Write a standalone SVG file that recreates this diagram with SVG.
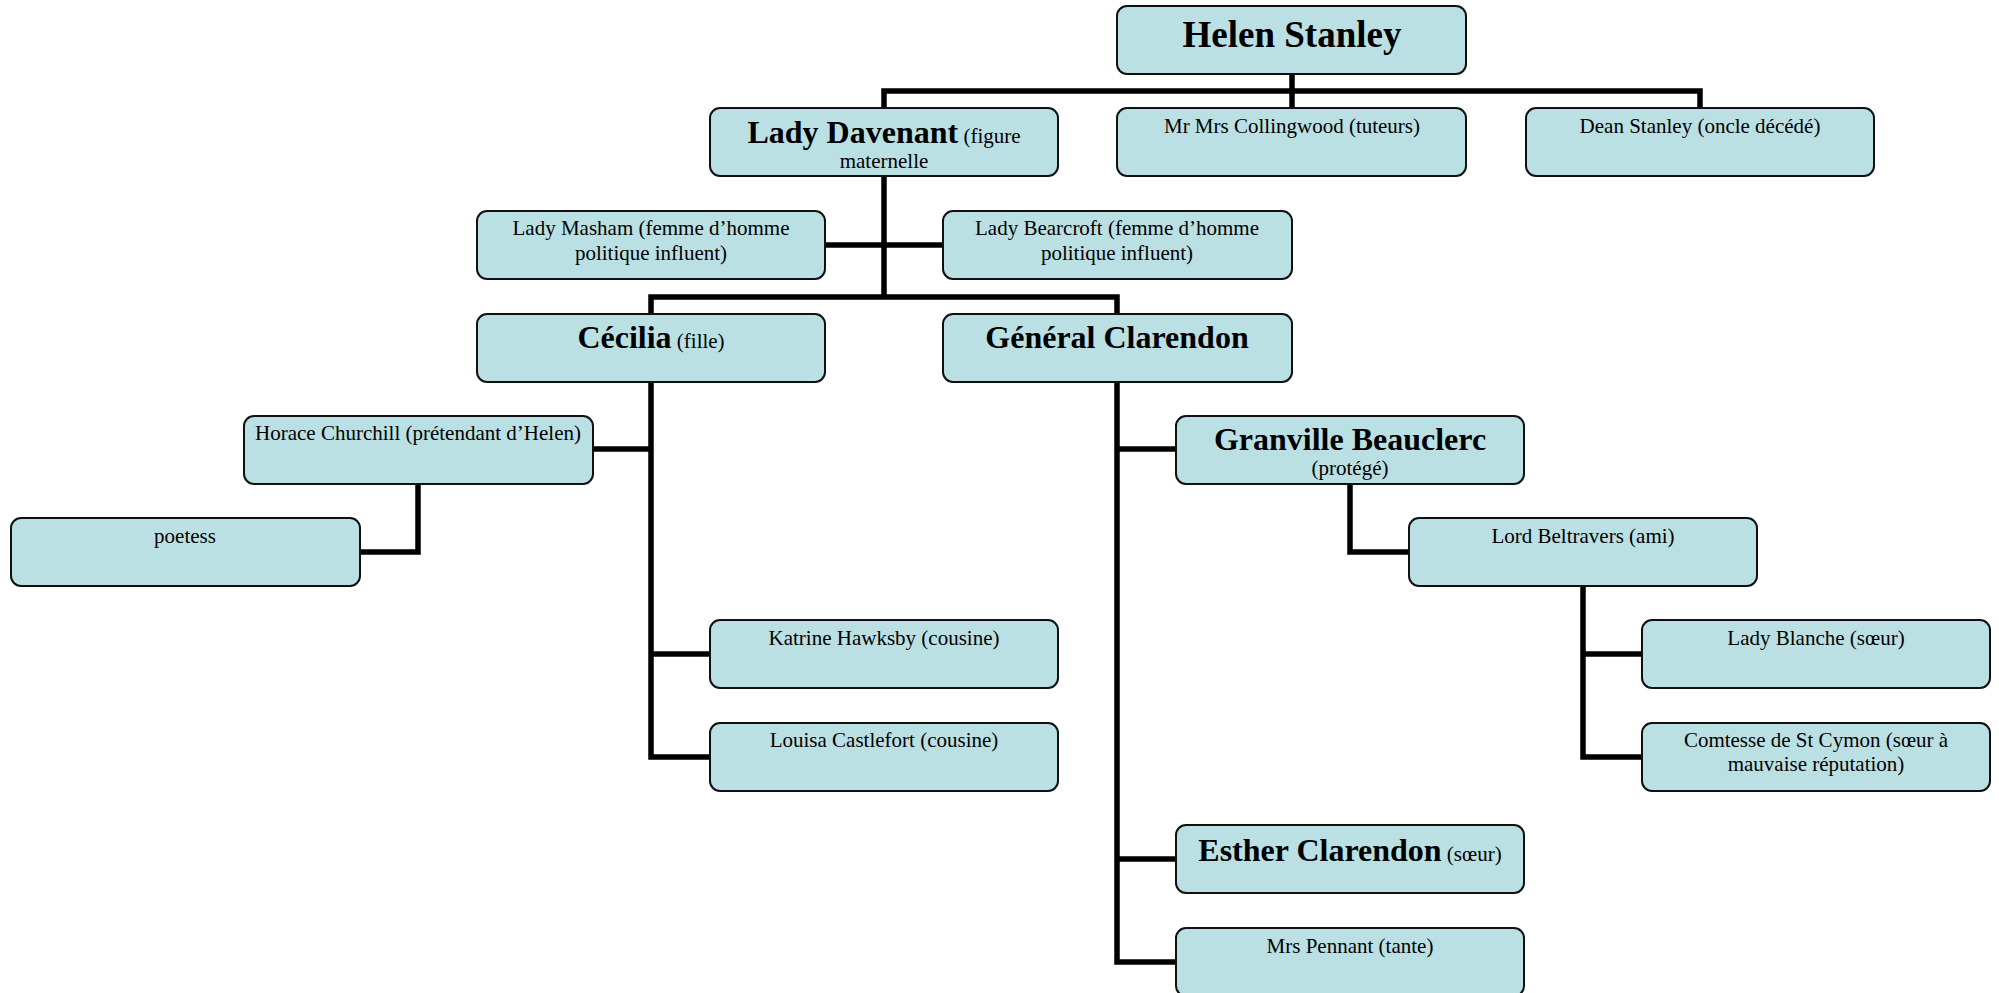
<svg xmlns="http://www.w3.org/2000/svg" width="1999" height="993" viewBox="0 0 1999 993">
<style>
.box{fill:#BAE0E4;stroke:#111;stroke-width:2}
.t{font-family:"Liberation Serif","Times New Roman",serif;font-size:21px;fill:#000;text-anchor:middle}
.b{font-weight:bold;font-size:32px}
.h{font-weight:bold;font-size:37px}
.c{fill:none;stroke:#000;stroke-width:5.5;stroke-linejoin:miter}
</style>
<rect width="1999" height="993" fill="#fff"/>
<g id="connectors" class="c">
<path d="M1292 74 V91"/>
<path d="M884 108 V91 H1700 V108"/>
<path d="M1292 91 V108"/>
<path d="M884 176 V297"/>
<path d="M651 314 V297 H1117 V314"/>
<path d="M825 245 H943"/>
<path d="M651 382 V757 H710"/>
<path d="M593 449 H651"/>
<path d="M651 654 H710"/>
<path d="M418 484 V552 H361"/>
<path d="M1117 382 V962 H1176"/>
<path d="M1117 449 H1176"/>
<path d="M1117 859 H1176"/>
<path d="M1350 484 V552 H1409"/>
<path d="M1583 587 V757 H1642"/>
<path d="M1583 654 H1642"/>
</g>
<g id="helen"><rect class="box" x="1117" y="6" width="349" height="68" rx="10"/><text class="t h" x="1292" y="47">Helen Stanley</text></g>
<g id="davenant"><rect class="box" x="710" y="108" width="348" height="68" rx="10"/><text class="t" x="884" y="143"><tspan class="b">Lady Davenant</tspan> (figure</text><text class="t" x="884" y="168">maternelle</text></g>
<g id="collingwood"><rect class="box" x="1117" y="108" width="349" height="68" rx="10"/><text class="t" x="1292" y="133">Mr Mrs Collingwood (tuteurs)</text></g>
<g id="dean"><rect class="box" x="1526" y="108" width="348" height="68" rx="10"/><text class="t" x="1700" y="133">Dean Stanley (oncle décédé)</text></g>
<g id="masham"><rect class="box" x="477" y="211" width="348" height="68" rx="10"/><text class="t" x="651" y="235">Lady Masham (femme d’homme</text><text class="t" x="651" y="260">politique influent)</text></g>
<g id="bearcroft"><rect class="box" x="943" y="211" width="349" height="68" rx="10"/><text class="t" x="1117" y="235">Lady Bearcroft (femme d’homme</text><text class="t" x="1117" y="260">politique influent)</text></g>
<g id="cecilia"><rect class="box" x="477" y="314" width="348" height="68" rx="10"/><text class="t" x="651" y="348"><tspan class="b">Cécilia</tspan> (fille)</text></g>
<g id="general"><rect class="box" x="943" y="314" width="349" height="68" rx="10"/><text class="t b" x="1117" y="348">Général Clarendon</text></g>
<g id="horace"><rect class="box" x="244" y="416" width="349" height="68" rx="10"/><text class="t" x="418" y="440">Horace Churchill (prétendant d’Helen)</text></g>
<g id="poetess"><rect class="box" x="11" y="518" width="349" height="68" rx="10"/><text class="t" x="185" y="543">poetess</text></g>
<g id="katrine"><rect class="box" x="710" y="620" width="348" height="68" rx="10"/><text class="t" x="884" y="645">Katrine Hawksby (cousine)</text></g>
<g id="louisa"><rect class="box" x="710" y="723" width="348" height="68" rx="10"/><text class="t" x="884" y="747">Louisa Castlefort (cousine)</text></g>
<g id="granville"><rect class="box" x="1176" y="416" width="348" height="68" rx="10"/><text class="t b" x="1350" y="450">Granville Beauclerc</text><text class="t" x="1350" y="475">(protégé)</text></g>
<g id="beltravers"><rect class="box" x="1409" y="518" width="348" height="68" rx="10"/><text class="t" x="1583" y="543">Lord Beltravers (ami)</text></g>
<g id="blanche"><rect class="box" x="1642" y="620" width="348" height="68" rx="10"/><text class="t" x="1816" y="645">Lady Blanche (sœur)</text></g>
<g id="comtesse"><rect class="box" x="1642" y="723" width="348" height="68" rx="10"/><text class="t" x="1816" y="747">Comtesse de St Cymon (sœur à</text><text class="t" x="1816" y="771">mauvaise réputation)</text></g>
<g id="esther"><rect class="box" x="1176" y="825" width="348" height="68" rx="10"/><text class="t" x="1350" y="861"><tspan class="b">Esther Clarendon</tspan> (sœur)</text></g>
<g id="pennant"><rect class="box" x="1176" y="928" width="348" height="68" rx="10"/><text class="t" x="1350" y="953">Mrs Pennant (tante)</text></g>
</svg>
